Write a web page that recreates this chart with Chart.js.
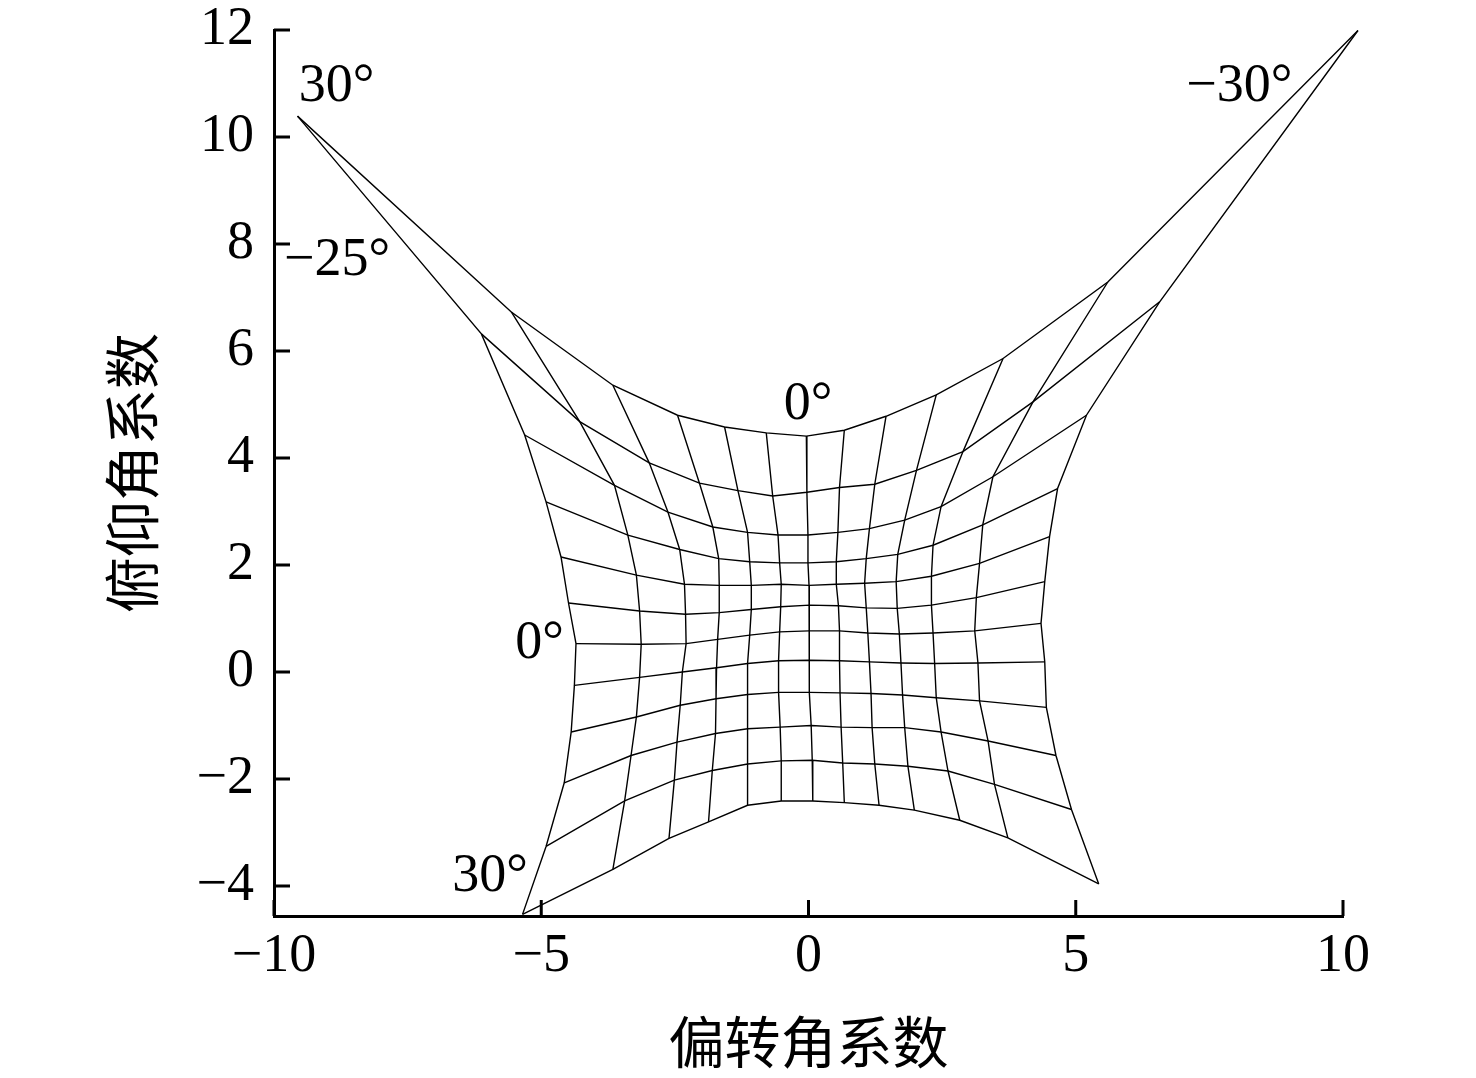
<!DOCTYPE html>
<html>
<head>
<meta charset="utf-8">
<script src="https://cdn.jsdelivr.net/npm/chart.js@4.4.1/dist/chart.umd.min.js"></script>
<style>
  html, body { margin: 0; padding: 0; background: #fff; }
</style>
</head>
<body>
<canvas id="meshChart" width="1476" height="1078"></canvas>
<script>
// grid nodes: one row per pitch angle, one column per yaw angle
const yawAngles = [30, 25, 20, 15, 10, 5, 0, -5, -10, -15, -20, -25, -30];
const pitchAngles = [-25, -20, -15, -10, -5, 0, 5, 10, 15, 20, 25, 30];

// yaw coefficient (x) of every node, row by row
const meshX = [
  [-9.56, -5.56, -3.66, -2.45, -1.57, -0.79, -0.04, 0.67, 1.45, 2.39, 3.64, 5.60, 10.28],
  [-6.12, -4.28, -2.98, -2.04, -1.32, -0.67, -0.03, 0.58, 1.24, 2.02, 2.89, 4.20, 6.57],
  [-5.31, -3.63, -2.63, -1.79, -1.14, -0.57, -0.01, 0.55, 1.14, 1.80, 2.48, 3.45, 5.20],
  [-4.91, -3.38, -2.41, -1.68, -1.10, -0.54, -0.01, 0.52, 1.08, 1.67, 2.33, 3.26, 4.66],
  [-4.63, -3.22, -2.32, -1.67, -1.07, -0.51, 0.01, 0.52, 1.05, 1.64, 2.30, 3.20, 4.51],
  [-4.49, -3.16, -2.30, -1.67, -1.07, -0.52, 0.02, 0.56, 1.08, 1.66, 2.30, 3.14, 4.42],
  [-4.35, -3.13, -2.29, -1.70, -1.10, -0.54, 0.01, 0.58, 1.11, 1.70, 2.33, 3.11, 4.35],
  [-4.38, -3.16, -2.36, -1.72, -1.14, -0.56, 0.01, 0.58, 1.14, 1.73, 2.36, 3.17, 4.42],
  [-4.44, -3.22, -2.40, -1.73, -1.14, -0.56, 0.02, 0.59, 1.17, 1.76, 2.39, 3.20, 4.45],
  [-4.57, -3.32, -2.46, -1.74, -1.14, -0.53, 0.05, 0.61, 1.19, 1.80, 2.48, 3.36, 4.63],
  [-4.91, -3.44, -2.51, -1.80, -1.14, -0.51, 0.07, 0.64, 1.24, 1.86, 2.61, 3.48, 4.92],
  [-5.35, -3.66, -2.61, -1.87, -1.14, -0.51, 0.08, 0.67, 1.32, 1.98, 2.83, 3.73, 5.43]
];

// pitch coefficient (y) of every node, row by row
const meshY = [
  [10.39, 6.73, 5.36, 4.80, 4.58, 4.47, 4.41, 4.52, 4.78, 5.18, 5.86, 7.29, 11.99],
  [6.32, 4.68, 3.91, 3.53, 3.39, 3.29, 3.36, 3.45, 3.51, 3.77, 4.12, 5.05, 6.92],
  [4.43, 3.49, 2.99, 2.71, 2.61, 2.56, 2.56, 2.61, 2.68, 2.84, 3.09, 3.65, 4.80],
  [3.18, 2.56, 2.29, 2.12, 2.06, 2.04, 2.04, 2.06, 2.12, 2.20, 2.37, 2.75, 3.43],
  [2.15, 1.81, 1.64, 1.62, 1.62, 1.64, 1.62, 1.64, 1.66, 1.69, 1.79, 2.03, 2.53],
  [1.29, 1.14, 1.08, 1.11, 1.17, 1.22, 1.25, 1.24, 1.20, 1.19, 1.25, 1.39, 1.69],
  [0.53, 0.52, 0.53, 0.61, 0.69, 0.75, 0.77, 0.77, 0.73, 0.71, 0.73, 0.77, 0.91],
  [-0.25, -0.10, 0.00, 0.08, 0.16, 0.21, 0.22, 0.21, 0.19, 0.17, 0.16, 0.17, 0.19],
  [-1.12, -0.84, -0.62, -0.50, -0.42, -0.38, -0.38, -0.39, -0.40, -0.43, -0.48, -0.54, -0.66],
  [-2.07, -1.56, -1.31, -1.15, -1.06, -1.03, -1.00, -1.03, -1.04, -1.04, -1.12, -1.29, -1.56],
  [-3.26, -2.41, -2.02, -1.84, -1.72, -1.66, -1.65, -1.70, -1.72, -1.76, -1.85, -2.10, -2.57],
  [-4.53, -3.69, -3.11, -2.80, -2.49, -2.41, -2.41, -2.44, -2.49, -2.58, -2.77, -3.10, -3.96]
];

const xTicks = [-10, -5, 0, 5, 10];
const yTicks = [-4, -2, 0, 2, 4, 6, 8, 10, 12];

// angle notes written on the figure, anchored in data units
const noteText = ['30°', '−25°', '−30°', '0°', '0°', '30°'];
const noteX = [-8.83, -8.82, 8.06, -0.01, -5.03, -5.96];
const noteY = [10.93, 7.68, 10.94, 4.99, 0.52, -3.82];

const serif = '"Liberation Serif", "Times New Roman", serif';
const fmt = v => (v < 0 ? '−' + Math.abs(v) : String(v));

const lineStyle = {
  showLine: true,
  borderColor: '#000',
  borderWidth: 1.4,
  pointRadius: 0,
  pointHoverRadius: 0,
  fill: false,
  tension: 0,
  clip: false
};

const datasets = [];
meshX.forEach((rowX, r) => {
  datasets.push(Object.assign({
    label: '俯仰 ' + pitchAngles[r] + '°',
    data: rowX.map((x, c) => ({ x: x, y: meshY[r][c] }))
  }, lineStyle));
});
yawAngles.forEach((yaw, c) => {
  datasets.push(Object.assign({
    label: '偏转 ' + yaw + '°',
    data: meshX.map((rowX, r) => ({ x: rowX[c], y: meshY[r][c] }))
  }, lineStyle));
});

// ticks point into the plot, and the angle notes
const figureExtras = {
  id: 'figureExtras',
  afterDatasetsDraw(chart) {
    const { ctx, chartArea, scales: { x, y } } = chart;
    ctx.save();
    ctx.strokeStyle = '#000';
    ctx.lineWidth = 3;
    ctx.beginPath();
    xTicks.forEach(v => {
      const px = x.getPixelForValue(v);
      ctx.moveTo(px, chartArea.bottom);
      ctx.lineTo(px, chartArea.bottom - 16);
    });
    yTicks.forEach(v => {
      const py = y.getPixelForValue(v);
      ctx.moveTo(chartArea.left, py);
      ctx.lineTo(chartArea.left + 16, py);
    });
    ctx.stroke();

    ctx.fillStyle = '#000';
    ctx.font = '54px ' + serif;
    ctx.textAlign = 'center';
    ctx.textBaseline = 'middle';
    noteText.forEach((t, i) => {
      ctx.fillText(t, x.getPixelForValue(noteX[i]), y.getPixelForValue(noteY[i]));
    });
    ctx.restore();
  }
};

new Chart(document.getElementById('meshChart').getContext('2d'), {
  type: 'scatter',
  data: { datasets: datasets },
  options: {
    responsive: false,
    animation: false,
    events: [],
    layout: {
      autoPadding: false,
      padding: { top: 30, right: 133, left: 0, bottom: 0 }
    },
    plugins: {
      legend: { display: false },
      tooltip: { enabled: false }
    },
    scales: {
      x: {
        type: 'linear',
        min: -10,
        max: 10,
        afterBuildTicks: s => { s.ticks = xTicks.map(v => ({ value: v })); },
        afterFit: s => { s.height = 162; s.paddingLeft = 0; s.paddingRight = 0; },
        grid: { display: false, drawTicks: false },
        border: { display: true, color: '#000', width: 3 },
        ticks: {
          color: '#000',
          padding: 8,
          maxRotation: 0,
          autoSkip: false,
          font: { family: serif, size: 54 },
          callback: v => fmt(v)
        },
        title: {
          display: true,
          text: '偏转角系数',
          color: '#000',
          font: { family: '"Noto Sans CJK SC"', size: 56 },
          padding: { top: 0, bottom: 3 }
        }
      },
      y: {
        type: 'linear',
        min: -4.56,
        max: 12,
        afterBuildTicks: s => { s.ticks = yTicks.map(v => ({ value: v })); },
        afterFit: s => { s.width = 274; s.paddingTop = 0; s.paddingBottom = 0; },
        grid: { display: false, drawTicks: false },
        border: { display: true, color: '#000', width: 3 },
        ticks: {
          color: '#000',
          padding: 20,
          autoSkip: false,
          font: { family: serif, size: 54 },
          callback: v => fmt(v)
        },
        title: {
          display: true,
          text: '俯仰角系数',
          color: '#000',
          font: { family: '"Noto Sans CJK SC"', size: 56 },
          padding: { top: 98, bottom: 0 }
        }
      }
    }
  },
  plugins: [figureExtras]
});
</script>
</body>
</html>
